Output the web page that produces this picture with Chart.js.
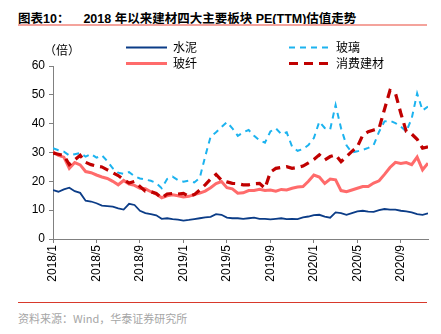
<!DOCTYPE html>
<html>
<head>
<meta charset="utf-8">
<script src="https://cdn.jsdelivr.net/npm/chart.js@4/dist/chart.umd.min.js"></script>
<style>
  html, body { margin: 0; padding: 0; background: #fff; }
  body { width: 441px; height: 334px; position: relative; overflow: hidden; font-family: 'Liberation Sans', Arial, 'Noto Sans CJK SC', sans-serif; }
  .title { position: absolute; left: 18px; top: 8px; font-size: 12.5px; font-weight: bold; color: #000; white-space: nowrap; font-family: 'Liberation Sans', Arial, 'Noto Sans CJK SC', sans-serif; }
  .title .num { margin-left: 14px; }
  .rule-top { position: absolute; left: 18px; width: 409px; top: 24px; height: 2px; background: #f4a39c; }
  .rule-bottom { position: absolute; left: 18px; width: 409px; top: 302px; height: 1px; background: #d8392b; }
  .source { position: absolute; left: 18px; top: 310px; font-size: 11px; color: #a6a6a6; white-space: nowrap; font-family: 'Noto Sans CJK SC', sans-serif; }
  .chart-box { position: absolute; left: 0; top: 36px; width: 441px; height: 260px; }
</style>
</head>
<body>
<div class="title">图表10：<span class="num">2018 年以来建材四大主要板块 PE(TTM)估值走势</span></div>
<div class="rule-top"></div>
<div class="chart-box"><canvas id="pe"></canvas></div>
<div class="rule-bottom"></div>
<div class="source">资料来源：Wind，华泰证券研究所</div>

<script>
// half-month steps since 2018/1
const halfMonths = Array.from({ length: 70 }, (_, i) => i / 2);
const tickLabels = ['2018/1', '2018/5', '2018/9', '2019/1', '2019/5', '2019/9', '2020/1', '2020/5', '2020/9'];

const cement = [17, 16.4, 17.2, 17.8, 16.6, 16, 13.3, 13, 12.4, 11.6,
  11.4, 11.2, 10.6, 10.2, 12.2, 11.8, 9.8, 9, 8.6, 8.2,
  7, 7.2, 6.9, 6.7, 6.4, 6.6, 6.9, 7.2, 7.5, 7.7,
  8.6, 8.4, 7.4, 7.2, 7.2, 7, 7.2, 7.4, 7, 7,
  6.8, 7, 7.2, 6.9, 7, 6.9, 7.5, 7.8, 8.3, 8.4,
  7.8, 7.4, 9.2, 9, 8.4, 9, 9.6, 9.8, 9.5, 9.4,
  10, 10.4, 10.2, 10.2, 9.8, 9.6, 9.2, 8.6, 8.4, 8.9];

const glassFiber = [30.3, 29, 28.4, 24.5, 26.5, 25.7, 23.4, 23, 22.2, 21.5,
  21, 20, 18.8, 20.3, 19, 18.6, 17.6, 17.4, 16.4, 15.6,
  14.3, 15, 15.3, 15, 14.6, 14.8, 15.4, 15.9, 16.6, 17.8,
  19.2, 19.9, 17.8, 17.4, 15.9, 16, 16.8, 16.8, 17.2, 16.8,
  17, 16.6, 17.2, 17, 17.6, 18, 18.2, 20, 22.2, 21.5,
  19.3, 20.8, 20.5, 16.8, 16.4, 17, 17.6, 18.2, 18.2, 19.4,
  20.2, 22.4, 24.8, 26.6, 26.2, 26.5, 25.8, 28.4, 24, 26.3];

const glass = [31.5, 30.8, 30.3, 29, 29.4, 29.8, 28.6, 29.5, 28.2, 29,
  27, 24.5, 23, 22.6, 23.2, 21.8, 21, 20.6, 20.2, 19.4,
  17.6, 20.8, 21.6, 20.4, 19.9, 20.2, 19.6, 21.2, 28.6, 35.5,
  37, 38.8, 40.5, 38.4, 35.8, 37, 37.8, 35.8, 34.2, 33.4,
  37.3, 38.4, 36.4, 37, 32, 30.6, 31.2, 32.6, 35, 40.7,
  38.5, 38, 46.5, 38.4, 32.5, 30, 30.4, 30.9, 31.6, 32.6,
  37.2, 40.8, 41, 40.2, 39, 37.3, 41.8, 50.5, 44.6, 45.9];

const consumerMaterials = [29.8, 29.4, 29, 25.8, 27.4, 29, 26.6, 25.8, 25.3, 25,
  24, 23, 22, 20.6, 19.4, 20, 18.2, 16.6, 16.4, 15.8,
  14.2, 15.6, 15.8, 15.6, 15.8, 14.8, 15.4, 17, 18.8, 20.8,
  22.4, 20.4, 19.8, 19.3, 19.2, 18.8, 18.8, 19.2, 19.3, 17.6,
  23.2, 24.5, 24.8, 25.1, 24.5, 24.8, 25.3, 26.4, 27.6, 29.2,
  27.4, 28.6, 29.2, 26.8, 28.6, 30.4, 32, 36, 37.2, 37.8,
  38.4, 45, 51.5, 50.6, 43.6, 37.3, 36.4, 34.6, 31.5, 32];

function pts(values) {
  return values.map((v, i) => ({ x: halfMonths[i], y: v }));
}

// legend drawn as 2x2 grid above the plot, plus the unit label
const legendGrid = {
  id: 'legendGrid',
  afterDraw(chart) {
    const ctx = chart.ctx;
    const slots = [
      { x: 126, y: 11.5 }, { x: 289, y: 11.5 },
      { x: 126, y: 27.5 }, { x: 289, y: 27.5 }
    ];
    const order = [0, 2, 1, 3];
    ctx.save();
    order.forEach((di, k) => {
      const ds = chart.data.datasets[di];
      const s = slots[k];
      ctx.beginPath();
      ctx.strokeStyle = ds.borderColor;
      ctx.lineWidth = ds.borderWidth;
      ctx.setLineDash(ds.borderDash || []);
      ctx.moveTo(s.x, s.y);
      ctx.lineTo(s.x + 41, s.y);
      ctx.stroke();
      ctx.setLineDash([]);
      ctx.fillStyle = '#000';
      ctx.font = '12px "Noto Sans CJK SC"';
      ctx.textBaseline = 'middle';
      ctx.textAlign = 'left';
      ctx.fillText(ds.label, s.x + 47, s.y);
    });
    ctx.font = '12px "Noto Sans CJK SC"';
    ctx.fillText('（倍）', 44, 14);
    ctx.restore();
  }
};

new Chart(document.getElementById('pe'), {
  type: 'line',
  data: {
    datasets: [
      { label: '水泥', data: pts(cement), borderColor: '#0b3c87', borderWidth: 1.8, order: 4 },
      { label: '玻纤', data: pts(glassFiber), borderColor: '#ff6b6b', borderWidth: 3, order: 3 },
      { label: '玻璃', data: pts(glass), borderColor: '#1cb3ef', borderWidth: 2, borderDash: [6, 5], order: 2 },
      { label: '消费建材', data: pts(consumerMaterials), borderColor: '#c00000', borderWidth: 3.2, borderDash: [9, 6], order: 1 }
    ]
  },
  options: {
    responsive: true, maintainAspectRatio: false,
    animation: false,
    elements: { point: { radius: 0 }, line: { tension: 0, fill: false } },
    layout: { padding: { top: 30, right: 13, bottom: 0, left: 0 } },
    scales: {
      x: {
        type: 'linear', min: 0, max: 34.5,
        afterFit: s => { s.height = 57; },
        grid: { drawOnChartArea: false, drawTicks: true, tickLength: 4, color: '#808080' },
        border: { color: '#808080', width: 1 },
        ticks: {
          stepSize: 4, includeBounds: false, autoSkip: false,
          minRotation: 90, maxRotation: 90, padding: 2,
          color: '#000', font: { family: 'Liberation Sans', size: 12 },
          callback: v => (v % 4 === 0 ? tickLabels[v / 4] : '')
        }
      },
      y: {
        min: 0, max: 60,
        afterFit: s => { s.width = 53; },
        grid: { drawOnChartArea: false, drawTicks: true, tickLength: 4, color: '#808080' },
        border: { color: '#808080', width: 1 },
        ticks: { stepSize: 10, padding: 4, color: '#000', font: { family: 'Liberation Sans', size: 12 } }
      }
    },
    plugins: { legend: { display: false }, tooltip: { enabled: false } }
  },
  plugins: [legendGrid]
});
</script>
</body>
</html>
